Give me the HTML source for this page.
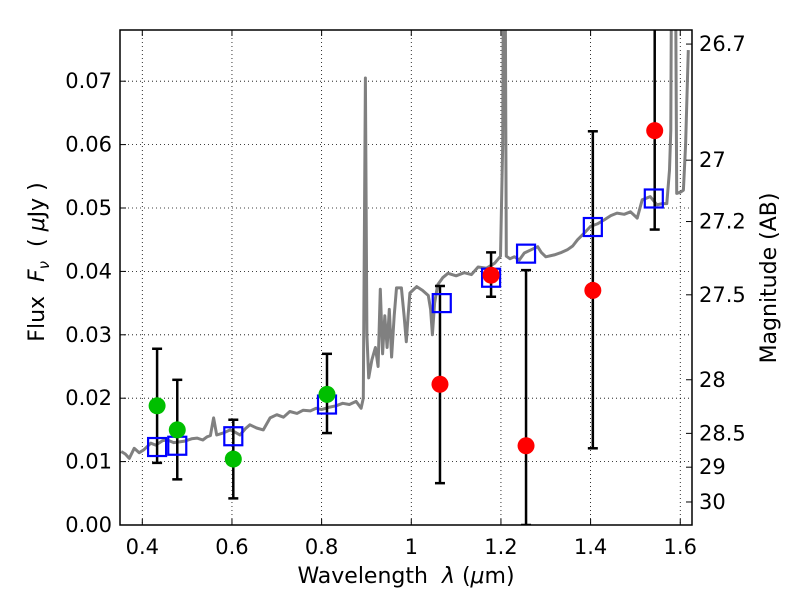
<!DOCTYPE html>
<html><head><meta charset="utf-8"><style>
body{margin:0;background:#fff;}
svg{display:block;font-family:"DejaVu Sans","Liberation Sans",sans-serif;}
text{white-space:pre;}
</style></head><body>
<svg id="chart" width="800" height="600" xmlns="http://www.w3.org/2000/svg"></svg>
<script>
const xTicks=[0.4,0.6,0.8,1.0,1.2,1.4,1.6];
const xTickLabels=["0.4","0.6","0.8","1","1.2","1.4","1.6"];
const yTicks=[0,0.01,0.02,0.03,0.04,0.05,0.06,0.07];
const yTickLabels=["0.00","0.01","0.02","0.03","0.04","0.05","0.06","0.07"];
const magTicks=[26.7,27,27.2,27.5,28,28.5,29,30];
const magTickLabels=["26.7","27","27.2","27.5","28","28.5","29","30"];
const specWave=[0.353,0.362,0.371,0.382,0.393,0.404,0.419,0.43,0.445,0.456,0.47,0.493,0.51,0.522,0.535,0.544,0.552,0.559,0.566,0.58,0.596,0.608,0.618,0.63,0.64,0.655,0.67,0.685,0.7,0.715,0.729,0.745,0.759,0.775,0.788,0.8,0.818,0.832,0.847,0.862,0.877,0.888,0.893,0.8976,0.901,0.905,0.912,0.92,0.926,0.931,0.936,0.941,0.946,0.951,0.956,0.962,0.967,0.978,0.984,0.989,0.993,0.997,1.012,1.025,1.038,1.043,1.047,1.052,1.059,1.07,1.082,1.1,1.118,1.134,1.149,1.168,1.186,1.199,1.204,1.206,1.209,1.212,1.22,1.23,1.241,1.252,1.267,1.282,1.29,1.3,1.319,1.335,1.348,1.36,1.371,1.385,1.4,1.415,1.43,1.445,1.459,1.475,1.489,1.504,1.515,1.533,1.548,1.56,1.57,1.576,1.579,1.581,1.589,1.592,1.6,1.607,1.612,1.618];
const specFlux=[0.0116,0.0112,0.0105,0.0121,0.0114,0.0119,0.0129,0.0126,0.0133,0.0134,0.0130,0.0132,0.0136,0.0137,0.0134,0.0139,0.0141,0.0169,0.0142,0.0145,0.0150,0.0146,0.0142,0.0152,0.0158,0.0153,0.0150,0.0169,0.0174,0.0170,0.0179,0.0176,0.0181,0.0180,0.0184,0.0182,0.0186,0.0188,0.0192,0.0190,0.0195,0.0184,0.0200,0.0705,0.030,0.0232,0.026,0.0280,0.0250,0.0372,0.0270,0.0330,0.0280,0.0340,0.0265,0.0330,0.0374,0.0374,0.0330,0.0289,0.0330,0.0366,0.0376,0.0370,0.0362,0.0340,0.0300,0.0350,0.0379,0.0390,0.0397,0.0393,0.0398,0.0395,0.0407,0.0405,0.0413,0.0424,0.060,0.095,0.095,0.0424,0.0420,0.0423,0.0418,0.0429,0.0434,0.0439,0.0430,0.0423,0.0426,0.0430,0.0434,0.0440,0.0450,0.0460,0.0471,0.0475,0.0481,0.0488,0.0492,0.0490,0.0494,0.0484,0.0513,0.0518,0.0505,0.0507,0.0507,0.0560,0.0623,0.095,0.095,0.0523,0.0525,0.0528,0.060,0.0749];
const greenWave=[0.433,0.478,0.603,0.812];
const greenFlux=[0.0188,0.0150,0.0104,0.0206];
const greenLo=[0.0098,0.0072,0.0042,0.0145];
const greenHi=[0.0278,0.0229,0.0166,0.0270];
const redWave=[1.064,1.178,1.256,1.405,1.543];
const redFlux=[0.0222,0.0394,0.0125,0.0370,0.0622];
const redLo=[0.0066,0.0360,0.0,0.0121,0.0466];
const redHi=[0.0377,0.0430,0.0402,0.0621,0.0900];
const modelWave=[0.433,0.478,0.603,0.812,1.068,1.178,1.256,1.405,1.541];
const modelFlux=[0.0123,0.0125,0.0140,0.0190,0.0350,0.0390,0.0428,0.0470,0.0515];

const L=120,R=692,T=30,B=525;
const X=w=>142.3+(w-0.4)*448.3;
const Y=f=>525-f*6340;
const magToFlux=m=>Math.pow(10,(23.9-m)/2.5);
const NS="http://www.w3.org/2000/svg";
const svg=document.getElementById('chart');
function mk(tag,attrs,parent){const e=document.createElementNS(NS,tag);for(const k in attrs)e.setAttribute(k,attrs[k]);(parent||svg).appendChild(e);return e;}

const defs=mk('defs',{});
const cp=mk('clipPath',{id:'clip'},defs);
mk('rect',{x:L,y:T,width:R-L,height:B-T},cp);

const grid=mk('g',{});


xTicks.forEach(t=>{mk('line',{x1:X(t),x2:X(t),y1:T,y2:B,stroke:'#000','stroke-width':0.8,'stroke-dasharray':'1,3'},grid);});
yTicks.forEach(t=>{mk('line',{x1:L,x2:R,y1:Y(t),y2:Y(t),stroke:'#000','stroke-width':0.8,'stroke-dasharray':'1,3'},grid);});

const plot=mk('g',{'clip-path':'url(#clip)'});
let d='';specWave.forEach((w,i)=>{d+=(i?'L':'M')+X(w).toFixed(1)+','+Y(specFlux[i]).toFixed(1);});
const sp=mk('path',{d:d,fill:'none',stroke:'#808080','stroke-width':3,'stroke-linejoin':'round'},plot);



function errbar(w,lo,hi,name){
  const g=mk('g',{},plot);
  
  
  mk('line',{x1:X(w),x2:X(w),y1:Y(lo),y2:Y(hi),stroke:'#000','stroke-width':2.5},g);
  mk('line',{x1:X(w)-5,x2:X(w)+5,y1:Y(lo),y2:Y(lo),stroke:'#000','stroke-width':2.5},g);
  mk('line',{x1:X(w)-5,x2:X(w)+5,y1:Y(hi),y2:Y(hi),stroke:'#000','stroke-width':2.5},g);
}
greenWave.forEach((w,i)=>errbar(w,greenLo[i],greenHi[i],'green-error-bar'));
redWave.forEach((w,i)=>errbar(w,redLo[i],redHi[i],'red-error-bar'));
modelWave.forEach((w,i)=>{
  const r=mk('rect',{x:X(w)-9,y:Y(modelFlux[i])-9,width:18,height:18,fill:'none',stroke:'#0000ff','stroke-width':2.2},plot);
  
  
});
greenWave.forEach((w,i)=>{
  const c=mk('circle',{cx:X(w),cy:Y(greenFlux[i]),r:8.5,fill:'#00bf00'},plot);
  
  
});
redWave.forEach((w,i)=>{
  const c=mk('circle',{cx:X(w),cy:Y(redFlux[i]),r:8.5,fill:'#ff0000'},plot);
  
  
});

const fr=mk('rect',{x:L,y:T,width:R-L,height:B-T,fill:'none',stroke:'#000','stroke-width':1.5});



xTicks.forEach((t,i)=>{
  mk('line',{x1:X(t),x2:X(t),y1:B,y2:B-6,stroke:'#000','stroke-width':1});
  mk('line',{x1:X(t),x2:X(t),y1:T,y2:T+6,stroke:'#000','stroke-width':1});
  const tx=mk('text',{x:X(t),y:B+29,'text-anchor':'middle','font-size':21});
  tx.textContent=xTickLabels[i];
  
  
});
yTicks.forEach((t,i)=>{
  mk('line',{x1:L,x2:L+6,y1:Y(t),y2:Y(t),stroke:'#000','stroke-width':1});
  const tx=mk('text',{x:L-8,y:Y(t)+7,'text-anchor':'end','font-size':21});
  tx.textContent=yTickLabels[i];
  
  
});
magTicks.forEach((m,i)=>{
  const y=Y(magToFlux(m));
  mk('line',{x1:R,x2:R-6,y1:y,y2:y,stroke:'#000','stroke-width':1});
  const tx=mk('text',{x:R+7,y:y+7,'text-anchor':'start','font-size':21});
  tx.textContent=magTickLabels[i];
  
  
});

const xl=mk('text',{x:406,y:583,'text-anchor':'middle','font-size':22});
xl.innerHTML='Wavelength  <tspan font-style="italic">λ</tspan> (<tspan font-style="italic">μ</tspan>m)';


const yl=mk('text',{transform:'translate(44,262) rotate(-90)','text-anchor':'middle','font-size':22});
yl.innerHTML='Flux  <tspan font-style="italic">F</tspan><tspan font-style="italic" font-size="15" dy="5">ν</tspan><tspan dy="-5">  ( </tspan><tspan font-style="italic">μ</tspan>Jy )';


const rl=mk('text',{transform:'translate(776,278) rotate(-90)','text-anchor':'middle','font-size':22});
rl.textContent='Magnitude (AB)';


</script>
</body></html>
